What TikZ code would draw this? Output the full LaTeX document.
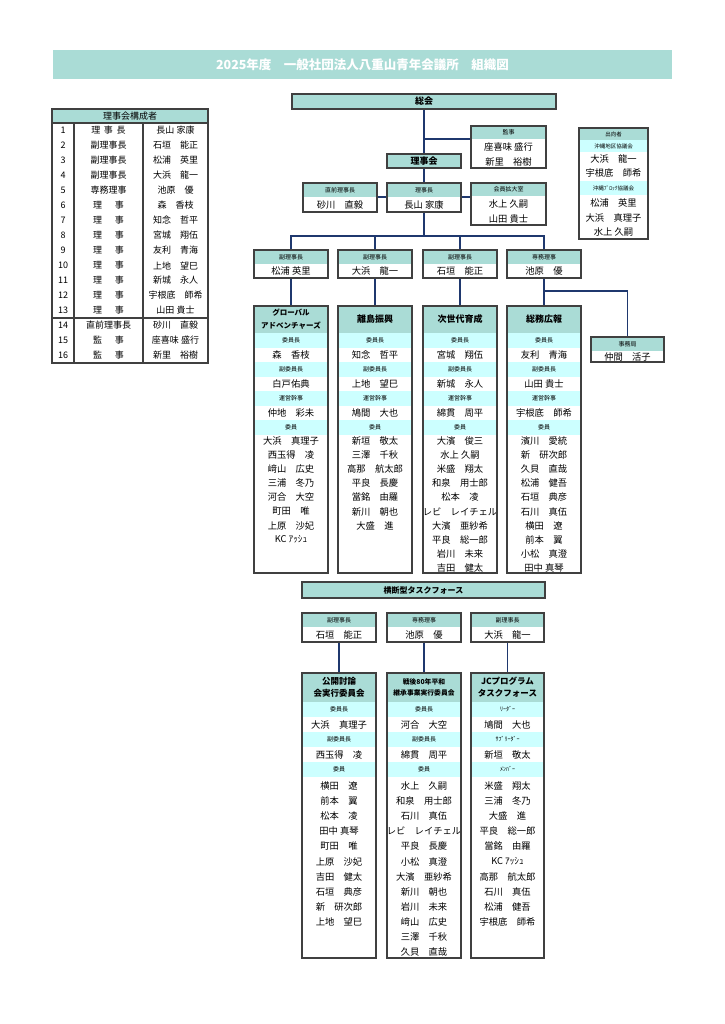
\documentclass[tikz,border=0pt]{standalone}
\usepackage{fontspec}
\setmainfont{Noto Sans CJK JP}
\usetikzlibrary{fit}
\definecolor{hdteal}{RGB}{170,220,214}
\definecolor{bandcyan}{RGB}{204,255,255}
\definecolor{linknavy}{RGB}{31,56,110}
\definecolor{frameg}{RGB}{64,64,64}
\newcommand\fsz[1]{\fontsize{#1}{#1}\selectfont}
\newcommand\rjsp{理\hspace{1.4em}事}
\newcommand\kjsp{監\hspace{1.4em}事}
% filled band fitted to two corners, text centred on it
\newcommand\bnd[5]{\node[#1, fit={(#3) (#4)}] (#2) {};
  \node[#1, fill=none, draw=none] (#2x) at (#2.center) {#5};}
% role box: header + one name
\newcommand\rolebox[7]{%
  \bnd{hd}{#1h}{#2,#3}{#4,{#3+14}}{#6}
  \node[nm] (#1n) at ({(#2+#4)/2},{(#3+14+#5)/2}) {#7};
  \node[frame, fit={(#2,#3) (#4,#5)}] (#1) {};}
% committee under the board
\newcommand\mainc[7]{%
  \bnd{ttl,#4}{#1t}{#2,306}{#3,333}{#5}
  \foreach \lab [count=\k] in {委員長,副委員長,運営幹事,委員}
    {\bnd{sub}{#1b\k}{#2,{304+29*\k}}{#3,{319+29*\k}}{\lab}}
  \foreach \who [count=\k] in {#6}
    {\node[nm] (#1n\k) at ({(#2+#3)/2},{326+29*\k}) {\who};}
  \foreach \who [count=\k] in {#7}
    {\node[nm] (#1m\k) at ({(#2+#3)/2},{426.9+14.1*\k}) {\who};}
  \node[frame, fit={(#2,306) (#3,573)}] (#1) {};}
% task force committee
\newcommand\taskc[8]{%
  \bnd{ttl,#4}{#1t}{#2,673}{#3,702}{#5}
  \foreach \lab [count=\k] in {#6}
    {\bnd{sub}{#1b\k}{#2,{672+30*\k}}{#3,{687+30*\k}}{\lab}}
  \foreach \who [count=\k] in {#7}
    {\node[nm] (#1n\k) at ({(#2+#3)/2},{695+30*\k}) {\who};}
  \foreach \who [count=\k] in {#8}
    {\node[nm] (#1m\k) at ({(#2+#3)/2},{770.9+15.1*\k}) {\who};}
  \node[frame, fit={(#2,673) (#3,958)}] (#1) {};}

\begin{document}
\begin{tikzpicture}
[x=1pt, y=-1pt,
 hd/.style={fill=hdteal, inner sep=0pt, font=\fsz{6}},
 sub/.style={fill=bandcyan, inner sep=0pt, font=\fsz{6}},
 ttl/.style={fill=hdteal, inner sep=0pt, align=center, font=\bfseries\fontsize{8.5}{12}\selectfont},
 bar/.style={ttl, draw=frameg, line width=1.1pt},
 nm/.style={inner sep=0pt, font=\fsz{9.3}},
 cell/.style={inner sep=0pt, font=\fsz{9}},
 frame/.style={draw=frameg, line width=1.1pt, inner sep=0pt},
 rule/.style={draw=frameg, line width=1.1pt},
 link/.style={draw=linknavy, line width=1.8pt}]
\fill[white] (0,0) rectangle (724,1024);
\useasboundingbox (0,0) rectangle (724,1024);

\bnd{fill=hdteal, inner sep=0pt, text=white, font=\bfseries\fsz{12.5}}{title}{53,50}{672,79}{2025年度　一般社団法人八重山青年会議所　組織図}

% board members table
\bnd{hd, font=\fsz{9}}{tblh}{52,109}{208,123}{理事会構成者}
\foreach \ro/\wh [count=\i] in {理\hspace{.4em}事\hspace{.4em}長/長山 家康, 副理事長/石垣　能正, 副理事長/松浦　英里, 副理事長/大浜　龍一, 専務理事/池原　優, \rjsp/森　香枝, \rjsp/知念　哲平, \rjsp/宮城　翔伍, \rjsp/友利　青海, \rjsp/上地　望巳, \rjsp/新城　永人, \rjsp/宇根底　師希, \rjsp/山田 貴士, 直前理事長/砂川　直毅, \kjsp/座喜味 盛行, \kjsp/新里　裕樹}
{\node[cell] (no\i) at (63,{115.5+15*\i}) {\i};
 \node[cell] (ro\i) at (108.5,{115.5+15*\i}) {\ro};
 \node[cell] (wh\i) at (175.5,{115.5+15*\i}) {\wh};}
\node[frame, fit={(52,109) (208,363)}] (tbl) {};
\draw[rule] (52,123) -- (208,123);
\draw[rule] (52,318) -- (208,318);
\draw[rule] (74,123) -- (74,363);
\draw[rule] (143,123) -- (143,363);

% top of the chart
\bnd{bar, font=\bfseries\fsz{9}}{sokai}{292,94}{556,109}{総会}
\bnd{hd}{kanjih}{471,126}{546,139}{監事}
\node[nm] (kanjin1) at (508.5,147) {座喜味 盛行};
\node[nm] (kanjin2) at (508.5,162) {新里　裕樹};
\node[frame, fit={(471,126) (546,168)}] (kanji) {};
\bnd{bar, font=\bfseries\fsz{9}}{rijikai}{387,154}{461,168}{理事会}
\rolebox{zenri}{303}{183}{377}{212}{直前理事長}{砂川　直毅}
\rolebox{richo}{387}{183}{461}{212}{理事長}{長山 家康}
\bnd{hd}{kakudaih}{471,183}{546,196}{会員拡大室}
\node[nm] (kakudain1) at (508.5,204) {水上 久嗣};
\node[nm] (kakudain2) at (508.5,219) {山田 貴士};
\node[frame, fit={(471,183) (546,225)}] (kakudai) {};

% seconded members
\bnd{hd, font=\fsz{5.5}}{shukkoh}{579,128}{648,140}{出向者}
\bnd{sub, font=\fsz{5.5}}{shukkob1}{579,140}{648,152}{沖縄地区協議会}
\node[nm] (shukkon1) at (613.5,159) {大浜　龍一};
\node[nm] (shukkon2) at (613.5,173) {宇根底　師希};
\bnd{sub, font=\fsz{5.5}}{shukkob2}{579,181}{648,195}{沖縄ﾌﾞﾛｯｸ協議会}
\node[nm] (shukkon3) at (613.5,203) {松浦　英里};
\node[nm] (shukkon4) at (613.5,218) {大浜　真理子};
\node[nm] (shukkon5) at (613.5,232) {水上 久嗣};
\node[frame, fit={(579,128) (648,239)}] (shukko) {};

% vice presidents and committees
\rolebox{vp1}{254}{250}{328}{278}{副理事長}{松浦 英里}
\rolebox{vp2}{338}{250}{412}{278}{副理事長}{大浜　龍一}
\rolebox{vp3}{423}{250}{497}{278}{副理事長}{石垣　能正}
\rolebox{senmu}{507}{250}{581}{278}{専務理事}{池原　優}
\rolebox{jimu}{591}{337}{664}{362}{事務局}{仲間　活子}

\mainc{glob}{254}{328}{font=\bfseries\fontsize{7.5}{13}\selectfont}{グローバル\\アドベンチャーズ}{森　香枝,白戸佑典,仲地　彩未}{大浜　真理子,西玉得　凌,﨑山　広史,三浦　冬乃,河合　大空,町田　唯,上原　沙妃,KC ｱｯｼｭ}
\mainc{rito}{338}{412}{font=\bfseries\fsz{9}}{離島振興}{知念　哲平,上地　望巳,鳩間　大也}{新垣　敬太,三澤　千秋,高那　航太郎,平良　長慶,當銘　由羅,新川　朝也,大盛　進}
\mainc{jisedai}{423}{497}{font=\bfseries\fsz{9}}{次世代育成}{宮城　翔伍,新城　永人,綿貫　周平}{大濱　俊三,水上 久嗣,米盛　翔太,和泉　用士郎,松本　凌,レビ　レイチェル,大濱　亜紗希,平良　総一郎,岩川　未来,吉田　健太}
\mainc{somu}{507}{581}{font=\bfseries\fsz{9}}{総務広報}{友利　青海,山田 貴士,宇根底　師希}{濱川　愛統,新　研次郎,久貝　直哉,松浦　健吾,石垣　典彦,石川　真伍,横田　遼,前本　翼,小松　真澄,田中 真琴}

% cross task force
\bnd{bar, font=\bfseries\fsz{8}}{tf}{302,582}{545,598}{横断型タスクフォース}
\rolebox{tvp1}{302}{613}{376}{642}{副理事長}{石垣　能正}
\rolebox{tsenmu}{387}{613}{461}{642}{専務理事}{池原　優}
\rolebox{tvp2}{471}{613}{544}{642}{副理事長}{大浜　龍一}
\taskc{tohron}{302}{376}{}{公開討論\\会実行委員会}{委員長,副委員長,委員}{大浜　真理子,西玉得　凌}{横田　遼,前本　翼,松本　凌,田中 真琴,町田　唯,上原　沙妃,吉田　健太,石垣　典彦,新　研次郎,上地　望巳}
\taskc{sengo}{387}{461}{font=\bfseries\fontsize{6.8}{11}\selectfont}{戦後80年平和\\継承事業実行委員会}{委員長,副委員長,委員}{河合　大空,綿貫　周平}{水上　久嗣,和泉　用士郎,石川　真伍,レビ　レイチェル,平良　長慶,小松　真澄,大濱　亜紗希,新川　朝也,岩川　未来,﨑山　広史,三澤　千秋,久貝　直哉}
\taskc{jcp}{471}{544}{}{JCプログラム\\タスクフォース}{ﾘｰﾀﾞｰ,ｻﾌﾞﾘｰﾀﾞｰ,ﾒﾝﾊﾞｰ}{鳩間　大也,新垣　敬太}{米盛　翔太,三浦　冬乃,大盛　進,平良　総一郎,當銘　由羅,KC ｱｯｼｭ,高那　航太郎,石川　真伍,松浦　健吾,宇根底　師希}

% connectors
\draw[link] (sokai) -- (rijikai);
\draw[link] (kanjih.south -| kanji.west) -- (kanjih.south -| sokai);
\draw[link] (rijikai) -- (richo);
\draw[link] (zenrih.south -| zenri.east) -- (zenrih.south -| richo.west);
\draw[link] (richoh.south -| richo.east) -- (richoh.south -| kakudai.west);
\coordinate (bus) at (424,236);
\draw[link] (richo) -- (bus);
\foreach \v in {vp1,vp2,vp3,senmu} \draw[link] (\v) |- (bus);
\draw[link] (vp1) -- (glob);
\draw[link] (vp2) -- (rito);
\draw[link] (vp3) -- (jisedai);
\draw[link] (senmu) -- (somu);
\coordinate (jbr) at (544,291);
\draw[link] (jimu) |- (jbr);
\draw[link] (tvp1) -- (tohron);
\draw[link] (tsenmu) -- (sengo);
\draw[link] (tvp2) -- (jcp);
\end{tikzpicture}
\end{document}
